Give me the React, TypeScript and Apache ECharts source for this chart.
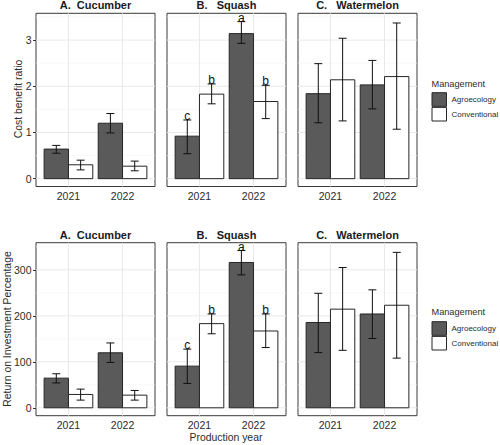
import React, { useEffect, useRef } from 'react';
import * as echarts from 'echarts';

const FONT = '"Liberation Sans", Arial, Helvetica, sans-serif';

const years = ['2021', '2022'];
const crops = ['A.\u00a0\u00a0Cucumber', 'B.\u00a0\u00a0\u00a0Squash', 'C.\u00a0\u00a0\u00a0Watermelon'];
const groups = ['Agroecology', 'Conventional'];
const legendTitle = 'Management';
const rowTitles = ['Cost benefit ratio', 'Return on Investment Percentage'];
const xTitle = 'Production year';

// Cost benefit ratio: [crop][year]
const cbrAgroMean = [[0.64, 1.2], [0.92, 3.14], [1.84, 2.03]];
const cbrAgroLow = [[0.55, 0.99], [0.54, 2.93], [1.21, 1.51]];
const cbrAgroHigh = [[0.72, 1.41], [1.27, 3.4], [2.49, 2.56]];
const cbrConvMean = [[0.3, 0.27], [1.83, 1.67], [2.14, 2.21]];
const cbrConvLow = [[0.19, 0.17], [1.62, 1.3], [1.25, 1.07]];
const cbrConvHigh = [[0.4, 0.38], [2.05, 2.02], [3.04, 3.37]];

// Return on investment percentage: [crop][year]
const roiAgroMean = [[64.5, 119.6], [90.6, 316], [185.5, 204]];
const roiAgroLow = [[54, 98.6], [52.9, 289], [120, 150.7]];
const roiAgroHigh = [[74, 141], [127.5, 342], [249, 256.5]];
const roiConvMean = [[29, 27.5], [183, 167], [214.5, 223]];
const roiConvLow = [[16.7, 16.7], [161, 131], [125, 108]];
const roiConvHigh = [[40.6, 37.7], [204, 204], [305, 338]];

// significance letters: [crop][year]
const agroLetters = [['', ''], ['c', 'a'], ['', '']];
const convLetters = [['', ''], ['b', 'b'], ['', '']];

// axis ticks
const cbrTicks = [0, 1, 2, 3];
const cbrMinor = [0.5, 1.5, 2.5, 3.5];
const roiTicks = [0, 100, 200, 300];
const roiMinor = [50, 150, 250, 350];
const yearTicks = [1, 2];

const AGRO_FILL = '#5a5a5a';
const CONV_FILL = '#ffffff';
const EDGE = '#262626';
const TEXT = '#2b2b2b';

function buildOption() {
  const colLeft = [36, 167, 298];
  const colWidth = 119;
  const rowTop = [13.3, 242.7];
  const rowHeight = [173.2, 173];
  const yMin = [-0.17, -17.2];
  const yMax = [3.58, 359];

  const rows = [
    { mean: [cbrAgroMean, cbrConvMean], low: [cbrAgroLow, cbrConvLow], high: [cbrAgroHigh, cbrConvHigh], ticks: cbrTicks, minor: cbrMinor },
    { mean: [roiAgroMean, roiConvMean], low: [roiAgroLow, roiConvLow], high: [roiAgroHigh, roiConvHigh], ticks: roiTicks, minor: roiMinor },
  ];
  const letters = [agroLetters, convLetters];

  const grid: any[] = [];
  const xAxis: any[] = [];
  const yAxis: any[] = [];
  const series: any[] = [];
  const graphic: any[] = [];

  rows.forEach((row, r) => {
    crops.forEach((crop, c) => {
      const gi = r * 3 + c;
      grid.push({
        left: colLeft[c], top: rowTop[r], width: colWidth, height: rowHeight[r],
        show: true, borderColor: '#3a3a3a', borderWidth: 1, backgroundColor: 'transparent',
      });
      xAxis.push({
        gridIndex: gi, type: 'value', min: 0.4, max: 2.6,
        axisLine: { show: false }, splitLine: { show: false },
        axisTick: { show: true, customValues: yearTicks, length: 3, lineStyle: { color: '#333', width: 1 } },
        axisLabel: {
          customValues: yearTicks, margin: 4, fontSize: 10.5, color: TEXT, fontFamily: FONT,
          formatter: (v: number) => years[Math.round(v) - 1] ?? '',
        },
      });
      yAxis.push({
        gridIndex: gi, type: 'value', min: yMin[r], max: yMax[r],
        axisLine: { show: false }, splitLine: { show: false },
        axisTick: { show: c === 0, customValues: row.ticks, length: 3, lineStyle: { color: '#333', width: 1 } },
        axisLabel: {
          show: c === 0, customValues: row.ticks, margin: 4.5, fontSize: 10.5, color: TEXT, fontFamily: FONT,
          formatter: (v: number) => String(Math.round(v)),
        },
      });

      // grid lines (drawn behind the bars)
      const gl: number[][] = [];
      row.ticks.forEach((t) => gl.push([0, t, 0]));
      row.minor.forEach((t) => { if (t < yMax[r]) gl.push([0, t, 1]); });
      yearTicks.forEach((t) => gl.push([1, t, 0]));
      series.push({
        type: 'custom', xAxisIndex: gi, yAxisIndex: gi, z: 1, silent: true,
        encode: { x: 1, y: 1 },
        itemStyle: { color: '#e9e9e9' },
        data: gl,
        renderItem: (params: any, api: any) => {
          const cs = params.coordSys;
          const kind = api.value(0);
          const v = api.value(1);
          const minor = api.value(2) === 1;
          const stroke = minor ? '#f4f4f4' : '#e9e9e9';
          if (kind === 0) {
            const p = api.coord([1.5, v]);
            return { type: 'line', shape: { x1: cs.x, y1: p[1], x2: cs.x + cs.width, y2: p[1] }, style: { stroke, lineWidth: minor ? 0.6 : 1 } };
          }
          const p = api.coord([v, 0]);
          return { type: 'line', shape: { x1: p[0], y1: cs.y, x2: p[0], y2: cs.y + cs.height }, style: { stroke, lineWidth: 1 } };
        },
      });

      // bars + error bars
      const items: any[] = [];
      years.forEach((_, yi) => {
        [0, 1].forEach((g) => {
          items.push({
            x: yi + 1 + (g === 0 ? -0.225 : 0.225),
            mean: row.mean[g][c][yi],
            low: row.low[g][c][yi],
            high: row.high[g][c][yi],
            g,
            letter: letters[g][c][yi],
          });
        });
      });
      series.push({
        type: 'custom', name: 'bars', xAxisIndex: gi, yAxisIndex: gi, z: 2, silent: true,
        encode: { x: 0, y: 1 },
        itemStyle: { color: AGRO_FILL },
        data: items.map((it) => [it.x, it.mean]),
        renderItem: (params: any, api: any) => {
          const it = items[params.dataIndex];
          const x = api.value(0);
          const y = api.value(1);
          const p1 = api.coord([x - 0.225, y]);
          const p2 = api.coord([x + 0.225, 0]);
          return {
            type: 'rect',
            shape: { x: p1[0], y: p1[1], width: p2[0] - p1[0], height: p2[1] - p1[1] },
            style: { fill: it.g === 0 ? AGRO_FILL : CONV_FILL, stroke: EDGE, lineWidth: 1 },
          };
        },
      });
      series.push({
        type: 'custom', name: 'errors', xAxisIndex: gi, yAxisIndex: gi, z: 3, silent: true,
        encode: { x: 0, y: [1, 2] },
        itemStyle: { color: '#111111' },
        data: items.map((it) => [it.x, it.low, it.high]),
        renderItem: (params: any, api: any) => {
          const it = items[params.dataIndex];
          const x = api.value(0);
          const lo = api.coord([x, api.value(1)]);
          const hi = api.coord([x, api.value(2)]);
          const half = 4;
          const st = { stroke: '#111111', lineWidth: 1 };
          const children: any[] = [
            { type: 'line', shape: { x1: lo[0], y1: lo[1], x2: hi[0], y2: hi[1] }, style: st },
            { type: 'line', shape: { x1: lo[0] - half, y1: lo[1], x2: lo[0] + half, y2: lo[1] }, style: st },
            { type: 'line', shape: { x1: hi[0] - half, y1: hi[1], x2: hi[0] + half, y2: hi[1] }, style: st },
          ];
          if (it.letter) {
            children.push({
              type: 'text', x: hi[0], y: hi[1] + 2,
              style: { text: it.letter, fill: '#111111', fontSize: 12, fontFamily: FONT, align: 'center', verticalAlign: 'bottom' },
            });
          }
          return { type: 'group', children };
        },
      });

      // strip title
      graphic.push({
        type: 'text', x: colLeft[c] + colWidth / 2, y: r === 0 ? 5.3 : 234.5,
        style: { text: crop, fill: '#1a1a1a', font: `bold 11px ${FONT}`, align: 'center', verticalAlign: 'middle' },
      });
    });

    // y axis title
    graphic.push({
      type: 'text', x: r === 0 ? 18 : 7.5, y: r === 0 ? 99 : 329, rotation: Math.PI / 2,
      style: { text: rowTitles[r], fill: TEXT, font: `10.4px ${FONT}`, align: 'center', verticalAlign: 'middle' },
    });

    // legend
    const lt = r === 0 ? 83.5 : 311.7;
    const keyTop = r === 0 ? 92.7 : 321.7;
    graphic.push({
      type: 'text', x: 431.5, y: lt,
      style: { text: legendTitle, fill: TEXT, font: `9.2px ${FONT}`, align: 'left', verticalAlign: 'middle' },
    });
    groups.forEach((gname, g) => {
      const top = keyTop + g * 14.7;
      graphic.push({
        type: 'rect', shape: { x: 432, y: top, width: 14.5, height: 13.6 },
        style: { fill: g === 0 ? AGRO_FILL : CONV_FILL, stroke: EDGE, lineWidth: 1 },
      });
      graphic.push({
        type: 'text', x: 451.5, y: top + 6.8,
        style: { text: gname, fill: TEXT, font: `8px ${FONT}`, align: 'left', verticalAlign: 'middle' },
      });
    });
  });

  graphic.push({
    type: 'text', x: 226, y: 437.7,
    style: { text: xTitle, fill: TEXT, font: `10.4px ${FONT}`, align: 'center', verticalAlign: 'middle' },
  });

  return {
    animation: false,
    backgroundColor: '#ffffff',
    grid, xAxis, yAxis, series, graphic,
  };
}

export default function App() {
  const ref = useRef<HTMLDivElement>(null);
  useEffect(() => {
    if (!ref.current) return;
    const chart = echarts.init(ref.current, null, { renderer: 'svg' });
    chart.setOption(buildOption() as any);
    return () => chart.dispose();
  }, []);
  return <div ref={ref} style={{ position: 'absolute', left: 0, top: 0, width: 500, height: 445 }} />;
}
